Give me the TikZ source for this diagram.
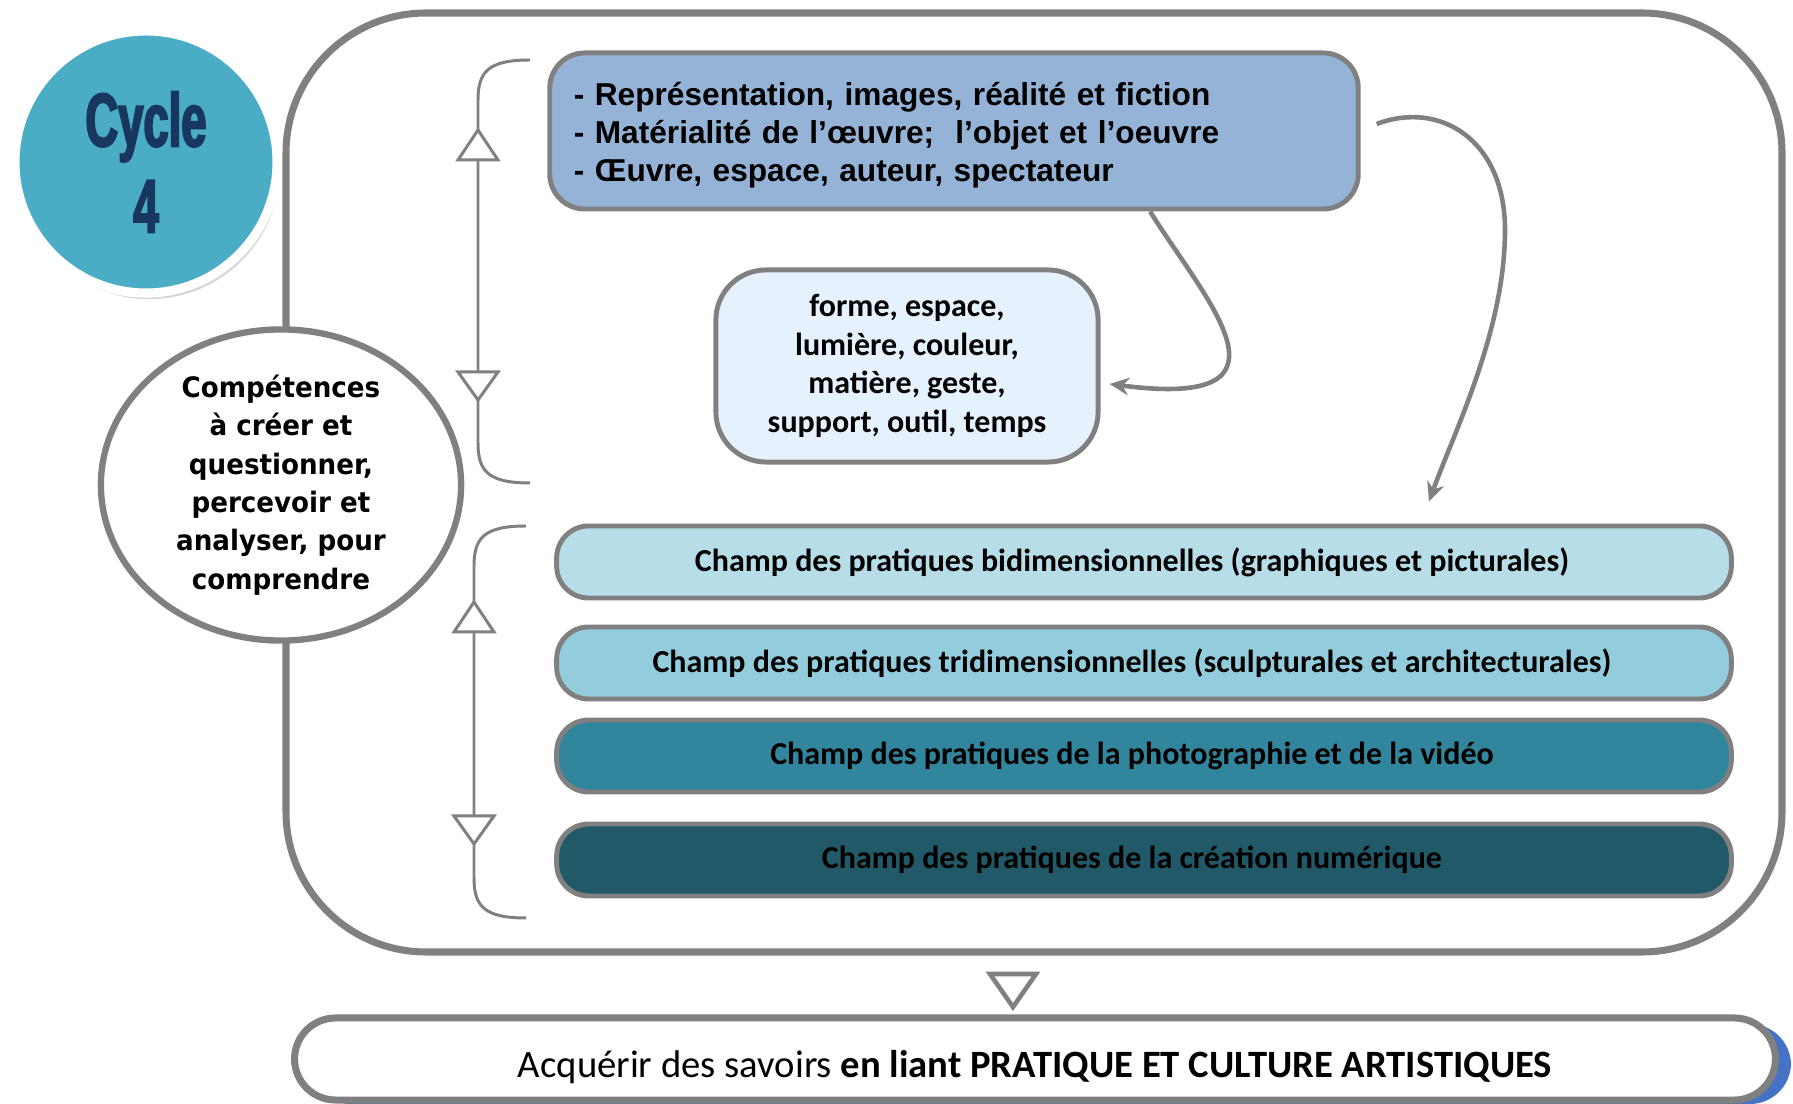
\documentclass[tikz,border=0pt]{standalone}
\usepackage{fontspec}
\setmainfont{Carlito}
\newfontfamily\arialFont{Liberation Sans}
\newfontfamily\compFont{DejaVu Sans}[FakeStretch=0.93]
\newfontfamily\cycleFont{Liberation Sans}[FakeStretch=0.6, FakeBold=2.5]
\usetikzlibrary{positioning,shadows,arrows.meta,shapes.geometric}
\definecolor{lineGray}{RGB}{128,128,128}
\definecolor{cycleBlue}{HTML}{4BACC6}
\definecolor{cycleInk}{HTML}{17375E}
\definecolor{themeColor}{HTML}{95B3D7}
\definecolor{elementColor}{HTML}{E5F2FD}
\definecolor{champOne}{HTML}{B7DEE8}
\definecolor{champTwo}{HTML}{93CDDD}
\definecolor{champThree}{HTML}{31859C}
\definecolor{champFour}{HTML}{215968}
\definecolor{edgeBlue}{HTML}{4472C4}
\tikzstyle{pixels} = [x = .01cm, y = -.01cm]
\tikzstyle{frameStyle} = [draw=lineGray, line width=2pt, rounded corners=1.4cm]
\tikzstyle{bracketLine} = [draw=lineGray, line width=.85pt]
\tikzstyle{triangleStyle} = [draw=lineGray, fill=white, line width=.85pt, line join=miter]
\tikzstyle{champStyle} = [draw=lineGray, line width=1.4pt, rounded corners=.32cm, minimum width=11.74cm, minimum height=.72cm, inner sep=0pt, font=\fontsize{9.1}{11}\selectfont\bfseries]
\tikzstyle{curveArrow} = [draw=lineGray, line width=1.3pt, -{Stealth[length=5.5pt, width=5pt]}]
\newcommand{\champBox}[4]{\node [champStyle, fill=#3] (#1) at (1144, #2) {\hspace*{-.24cm}#4};}
\newcommand{\upTriangle}[2]{\filldraw [triangleStyle] (#1, #2) -- ++(-20, 30) -- ++(40, 0) -- cycle;}
\newcommand{\downTriangle}[2]{\filldraw [triangleStyle] (#1 - 20, #2) -- ++(40, 0) -- ++(-20, 28) -- cycle;}
\newcommand{\bracket}[3]{\draw [bracketLine] (#1 + 52, #2) .. controls (#1 + 10, #2) and (#1, #2 + 12) .. (#1, #2 + 40) -- (#1, #3 - 40) .. controls (#1, #3 - 12) and (#1 + 10, #3) .. (#1 + 52, #3);}
\begin{document}
\begin{tikzpicture}[pixels]
          \useasboundingbox (0, 0) rectangle (1793, 1104);
          \draw [frameStyle] (286, 13) rectangle (1782, 952);

          \node [circle, fill=cycleBlue, draw=white, line width=2.6pt, minimum size=2.62cm, inner sep=0pt, align=center, text=cycleInk, font=\cycleFont\bfseries\fontsize{21.5}{24.5}\selectfont, drop shadow={shadow xshift=.03cm, shadow yshift=-.06cm, opacity=.35}] (cycle) at (146, 162) {Cycle\\4};

          \node [ellipse, draw=lineGray, line width=1.8pt, fill=white, minimum width=3.6cm, minimum height=3.05cm, inner sep=0pt, align=center, font=\compFont\bfseries\fontsize{8}{10.9}\selectfont] (skills) at (281, 485) {Compétences\\à créer et\\questionner,\\percevoir et\\analyser, pour\\comprendre};

          \node [draw=lineGray, line width=1.4pt, fill=themeColor, rounded corners=.35cm, text width=7.6cm, inner xsep=.24cm, minimum height=1.56cm, align=left, font=\arialFont\bfseries\fontsize{9}{10.9}\selectfont] (themes) at (954, 131) {\rule{0pt}{9pt}- Représentation, images, réalité et fiction\\- Matérialité de l’œuvre;\ \ l’objet et l’oeuvre\\- Œuvre, espace, auteur, spectateur};
          \node [draw=lineGray, line width=1.4pt, fill=elementColor, rounded corners=.5cm, minimum width=3.82cm, minimum height=1.92cm, align=center, font=\bfseries\fontsize{9.1}{11}\selectfont] (elements) at (907, 366) {forme, espace,\\lumière, couleur,\\matière, geste,\\support, outil, temps};

          \champBox{champBi}{562}{champOne}{Champ des pratiques bidimensionnelles (graphiques et picturales)}
          \champBox{champTri}{663}{champTwo}{Champ des pratiques tridimensionnelles (sculpturales et architecturales)}
          \champBox{champPhoto}{756}{champThree}{Champ des pratiques de la photographie et de la vidéo}
          \champBox{champNum}{860}{champFour}{Champ des pratiques de la création numérique}

          \bracket{478}{60}{483}
          \upTriangle{478}{130}
          \downTriangle{478}{372}
          \bracket{474}{526}{918}
          \upTriangle{474}{602}
          \downTriangle{474}{816}

          \draw [curveArrow] ([xshift=1.96cm]themes.south) .. controls (1205, 300) and (1310, 410) .. ([shift={(9, 18)}]elements.east);
          \draw [curveArrow] ([shift={(16, -7)}]themes.east) .. controls (1440, 100) and (1505, 140) .. (1505, 230) .. controls (1505, 330) and (1455, 430) .. ([shift={(285, -22)}]champBi.north);

          \filldraw [triangleStyle, line width=1.3pt] (990, 974) -- (1036, 974) -- (1013, 1007) -- cycle;
          \fill [edgeBlue, rounded corners=.41cm] (310, 1024) rectangle (1791, 1104);
          \node [draw=lineGray, line width=2pt, fill=white, rounded corners=.41cm, minimum width=14.8cm, minimum height=.82cm, font=\fontsize{11}{13}\selectfont] (goal) at (1035, 1059) {\rule{0pt}{12.5pt}Acquérir des savoirs \textbf{en liant PRATIQUE ET CULTURE ARTISTIQUES}};
        \end{tikzpicture}
\end{document}
